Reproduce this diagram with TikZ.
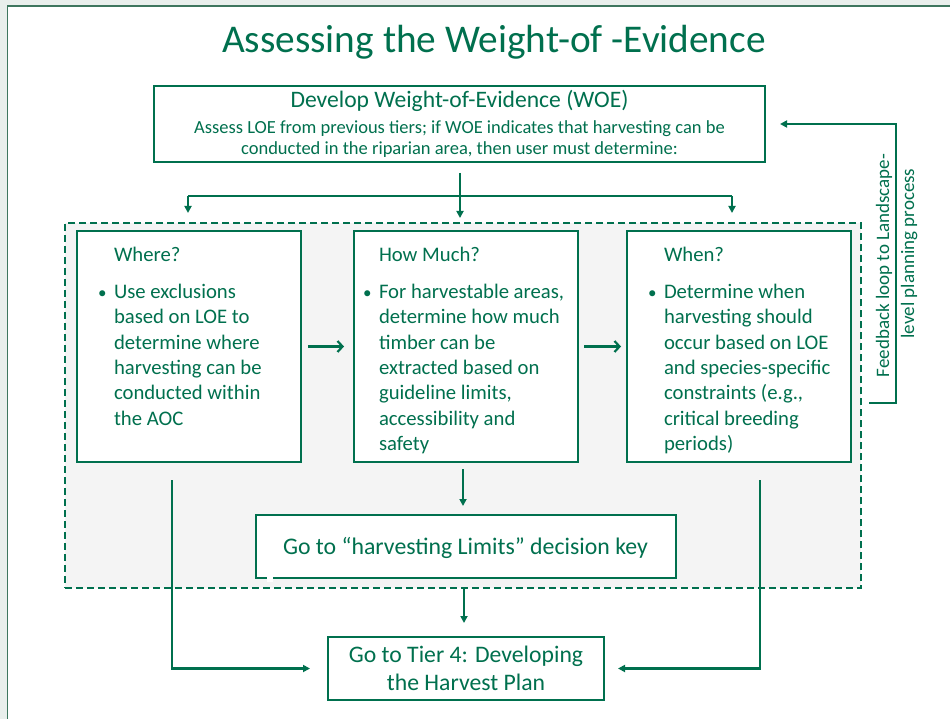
\documentclass[tikz,border=0pt]{standalone}
\usepackage{fontspec}
\setmainfont{Carlito}
\usetikzlibrary{arrows.meta}
\definecolor{dg}{RGB}{0,112,78}
\definecolor{panelgray}{RGB}{244,244,244}
\definecolor{outerbg}{RGB}{233,239,236}
\definecolor{framecol}{RGB}{62,118,94}
\newcommand\mybody{\fontsize{20.7}{25.4}\selectfont}
\begin{document}
\begin{tikzpicture}[x=1pt,y=-1pt,
  box/.style={draw=dg,line width=2.6pt,fill=white,rectangle,inner sep=0pt,outer sep=0pt},
  conn/.style={draw=dg,line width=2.2pt},
  tri/.style={-{Triangle[length=7pt,width=7pt]}},
  barb/.style={-{Straight Barb[length=5pt,width=11pt]}},
  txt/.style={text=dg,inner sep=0pt,outer sep=0pt},
  ]
\useasboundingbox (0,0) rectangle (950,719);
\fill[outerbg] (0,0) rectangle (950,719);
\fill[white] (7.6,6.3) rectangle (951,720);
\draw[framecol,line width=1.6pt] (7.6,720) -- (7.6,6.3) -- (951,6.3);

% panel
\node[rectangle,draw=dg,line width=2.4pt,dash pattern=on 7pt off 4pt,fill=panelgray,
      minimum width=796pt,minimum height=365pt,inner sep=0pt,outer sep=0pt] (panel) at (463,405.5) {};

% boxes
\node[box,minimum width=611pt,minimum height=76pt] (woe) at (459.5,124) {};
\node[box,minimum width=224pt,minimum height=231pt] (where) at (189,346.5) {};
\node[box,minimum width=224pt,minimum height=231pt] (how) at (466,346.5) {};
\node[box,minimum width=224pt,minimum height=231pt] (when) at (739,346.5) {};
\node[box,minimum width=420pt,minimum height=63pt] (limits) at (466,546.5) {};
\node[box,minimum width=276pt,minimum height=63pt] (t4) at (466,668.5) {};
\fill[white] (267,553) rectangle (273,582);

% texts
\node[txt,anchor=base] (title) at (494,53) {\fontsize{39.3}{47}\selectfont Assessing the Weight-of -Evidence};

\node[txt,anchor=base] (woetxt) at (459.5,108) {\fontsize{18.5}{21}\selectfont
  \begin{tabular}[t]{@{}c@{}}{\fontsize{23.6}{28}\selectfont Develop Weight-of-Evidence (WOE)}\\[4.4pt]
  Assess LOE from previous tiers; if WOE indicates that harvesting can be\\
  conducted in the riparian area, then user must determine:\end{tabular}};

\node[txt,anchor=base west] (wheretxt) at (98,261.7) {\mybody
  \begin{tabular}[t]{@{}p{16pt}@{}l@{}}
  & Where?\\[11.2pt]
  {\fontsize{17}{20}\selectfont •} & Use exclusions\\
  & based on LOE to\\
  & determine where\\
  & harvesting can be\\
  & conducted within\\
  & the AOC
  \end{tabular}};

\node[txt,anchor=base west] (howtxt) at (363,261.7) {\mybody
  \begin{tabular}[t]{@{}p{16pt}@{}l@{}}
  & How Much?\\[11.2pt]
  {\fontsize{17}{20}\selectfont •} & For harvestable areas,\\
  & determine how much\\
  & timber can be\\
  & extracted based on\\
  & guideline limits,\\
  & accessibility and\\
  & safety
  \end{tabular}};

\node[txt,anchor=base west] (whentxt) at (648,261.7) {\mybody
  \begin{tabular}[t]{@{}p{16pt}@{}l@{}}
  & When?\\[11.2pt]
  {\fontsize{17}{20}\selectfont •} & Determine when\\
  & harvesting should\\
  & occur based on LOE\\
  & and species-specific\\
  & constraints (e.g.,\\
  & critical breeding\\
  & periods)
  \end{tabular}};

\node[txt,anchor=base west] (limtxt) at (283,554) {\fontsize{23.8}{28}\selectfont Go to “harvesting Limits” decision key};

\node[txt,anchor=base] (t4txt) at (466,662) {\fontsize{23.7}{28}\selectfont
  \begin{tabular}[t]{@{}c@{}}Go to Tier 4: Developing\\ the Harvest Plan\end{tabular}};

\node[txt,anchor=base,rotate=90] (fbtxt) at (889,265.5) {\fontsize{19}{25}\selectfont
  \begin{tabular}[t]{@{}c@{}}Feedback loop to Landscape-\\ \hspace*{24pt}level planning process\end{tabular}};

% connectors
\coordinate (top0) at (460,173);
\coordinate (tl) at (188,196);
\coordinate (tr) at (732,196);
\draw[conn,tri,shorten >=5pt] (top0) -- (top0 |- panel.north);
\draw[conn] (tl) -- (tr);
\draw[conn,tri,shorten >=10pt] (tl) -- (tl |- panel.north);
\draw[conn,tri,shorten >=10pt] (tr) -- (tr |- panel.north);

\draw[conn,barb,shorten <=7pt,shorten >=10pt] (where.east) -- (how.west);
\draw[conn,barb,shorten <=6pt,shorten >=6pt] (how.east) -- (when.west);
\draw[conn,tri,shorten <=7pt,shorten >=9pt] ([xshift=-3pt]how.south) -- ([xshift=-3pt]how.south |- limits.north);
\draw[conn,tri,shorten >=14pt] ([xshift=-2pt]t4.north |- panel.south) -- ([xshift=-2pt]t4.north);

\coordinate (lstart) at (172,480);
\coordinate (rstart) at (760,480);
\draw[conn,tri,shorten >=18pt] (lstart) |- (t4.west);
\draw[conn,tri,shorten >=14pt] (rstart) |- (t4.east);

\coordinate (fbstart) at (869,403);
\coordinate (fbcorner) at (896,403);
\draw[conn,tri,shorten >=15pt] (fbstart) -- (fbcorner) |- (woe.east);
\end{tikzpicture}
\end{document}
